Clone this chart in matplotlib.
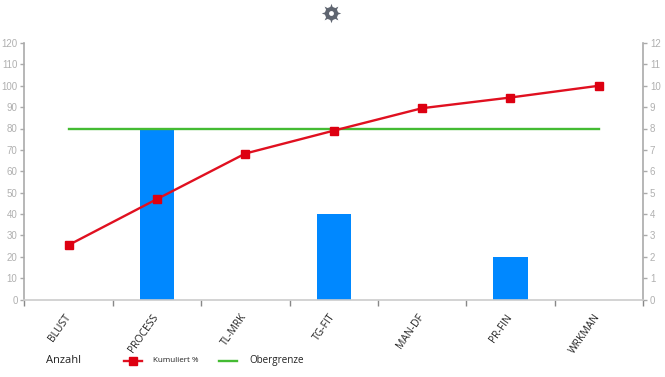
import matplotlib
matplotlib.use("Agg")
import matplotlib.pyplot as plt
from matplotlib.lines import Line2D
from matplotlib.transforms import ScaledTranslation

categories = ["BLUST", "PROCESS", "TL-MRK", "TG-FIT", "MAN-DF", "PR-FIN", "WRKMAN"]
counts = [0, 8, 0, 4, 0, 2, 0]
cumulative = [25.5, 47, 68.3, 79, 89.5, 94.5, 100]
limit = [80, 80, 80, 80, 80, 80, 80]
left_ticks = list(range(0, 121, 10))
right_ticks = list(range(0, 13))

W, H = 665, 377
fig = plt.figure(figsize=(W / 100, H / 100), dpi=100)
ax = fig.add_axes([24.5 / W, 1 - 299.5 / H, (643 - 24.5) / W, (299.5 - 43) / H])
ax2 = ax.twinx()

xs = list(range(len(categories)))
ax2.bar(xs, counts, width=0.39, color="#0088ff", zorder=1)
ax2.set_ylim(0, 12)
ax2.set_yticks(right_ticks)

ax.set_zorder(ax2.get_zorder() + 1)
ax.patch.set_visible(False)
ax.plot(xs, limit, color="#44bb33", lw=1.7, zorder=3)
ax.plot(xs, cumulative, color="#e01020", lw=1.7, marker="s", ms=5.2,
        mfc="#dd0011", mec="#dd0011", zorder=4)
ax.set_xlim(-0.5, 6.5)
ax.set_ylim(0, 120)
ax.set_yticks(left_ticks)

# category boundaries carry the tick marks, labels sit at category centres
ax.set_xticks([i + 0.5 for i in range(-1, 7)])
ax.set_xticklabels([])
ax.set_xticks(xs, minor=True)
ax.set_xticklabels(categories, minor=True, rotation=55, ha="right", va="top",
                   rotation_mode="anchor", fontsize=7.5, color="#222222",
                   family="Open Sans")
ax.tick_params(axis="x", which="major", length=4, width=1, color="#888888")
ax.tick_params(axis="x", which="minor", length=0, pad=9)
shift = ScaledTranslation(-5 / 100, 0, fig.dpi_scale_trans)
for lab in ax.get_xticklabels(minor=True):
    lab.set_transform(lab.get_transform() + shift)

for a in (ax, ax2):
    for s in a.spines.values():
        s.set_visible(False)
ax.spines["left"].set_visible(True)
ax.spines["left"].set_color("#aaaaaa")
ax.spines["left"].set_linewidth(1.2)
ax.spines["bottom"].set_visible(True)
ax.spines["bottom"].set_color("#cccccc")
ax.spines["bottom"].set_linewidth(1.2)
ax2.spines["right"].set_visible(True)
ax2.spines["right"].set_color("#aaaaaa")
ax2.spines["right"].set_linewidth(1.2)

ax.tick_params(axis="y", length=3, width=1, color="#aaaaaa", labelcolor="#b0b0b0",
               labelsize=7, pad=2)
ax2.tick_params(axis="y", length=3, width=1, color="#aaaaaa", labelcolor="#b0b0b0",
                labelsize=7, pad=2)
for lab in ax.get_yticklabels() + ax2.get_yticklabels():
    lab.set_family("Liberation Sans")

# legend
def fx(x):
    return x / W
def fy(y):
    return 1 - y / H

fig.text(fx(46), fy(360.5), "Anzahl", fontsize=8, color="#222222", family="Open Sans",
         va="center")
fig.add_artist(Line2D([fx(124), fx(142)], [fy(360.5)] * 2, color="#e01020", lw=1.7,
                      transform=fig.transFigure))
fig.add_artist(Line2D([fx(133)], [fy(360.5)], color="#dd0011", marker="s", ms=5.2,
                      transform=fig.transFigure))
fig.text(fx(153), fy(361), "Kumuliert %", fontsize=5.8, color="#222222", family="Open Sans",
         va="center")
fig.add_artist(Line2D([fx(219), fx(237)], [fy(360.5)] * 2, color="#44bb33", lw=1.7,
                      transform=fig.transFigure))
fig.text(fx(249), fy(361), "Obergrenze", fontsize=7.1, color="#222222", family="Open Sans",
         va="center")

# settings icon: a solid cog with a light hole
gear = "#5f6570"
fig.add_artist(Line2D([fx(331)], [fy(13)], marker=(8, 1, 0), ms=14, color=gear, mew=0,
                      transform=fig.transFigure))
fig.add_artist(Line2D([fx(331)], [fy(13)], marker="o", ms=9.5, color=gear, mew=0,
                      transform=fig.transFigure))
fig.add_artist(Line2D([fx(331)], [fy(13)], marker="o", ms=3.5, color="white", mew=0,
                      transform=fig.transFigure))

fig.savefig("out.png", dpi=100)
